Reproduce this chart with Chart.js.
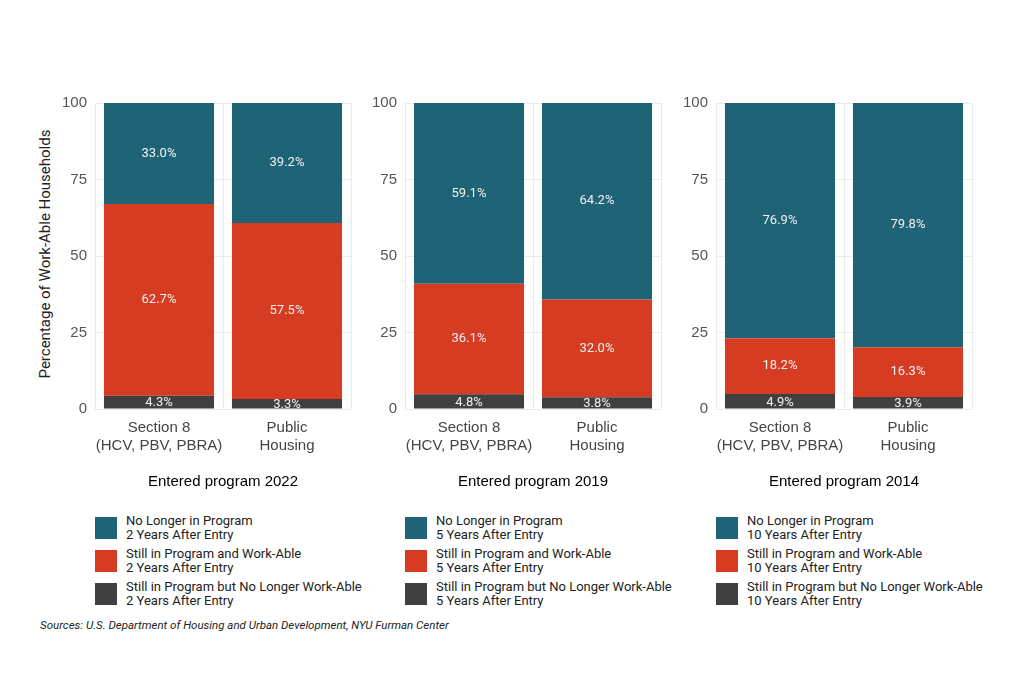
<!DOCTYPE html>
<html><head><meta charset="utf-8">
<script src="https://cdn.jsdelivr.net/npm/chart.js@4"></script>
<style>
body{margin:0;background:#fff;font-family:Roboto,"Noto Sans",sans-serif;}
#wrap{position:relative;width:1024px;height:683px;}
canvas{position:absolute;}
.ytitle{position:absolute;left:-85px;top:245px;width:260px;text-align:center;transform:rotate(-90deg);font-size:15px;color:#222;}
.leg{position:absolute;top:511px;font-size:13px;color:#222;line-height:14px;}
.item{display:flex;align-items:center;height:33px;}
.box{width:22px;height:22px;margin-right:9px;flex:none;}
.src{position:absolute;left:40px;top:618px;font-size:11.5px;font-style:italic;color:#222;}
</style></head><body>
<div id="wrap">
<div class="ytitle">Percentage of Work-Able Households</div>
<div class="src">Sources: U.S. Department of Housing and Urban Development, NYU Furman Center</div>
</div>
<script>
const categories = [['Section 8', '(HCV, PBV, PBRA)'], ['Public', 'Housing']];
const years = ['2022', '2019', '2014'];
const afterYears = ['2', '5', '10'];
const notWorkAble = [[4.3, 3.3], [4.8, 3.8], [4.9, 3.9]];
const workAble = [[62.7, 57.5], [36.1, 32.0], [18.2, 16.3]];
const noLonger = [[33.0, 39.2], [59.1, 64.2], [76.9, 79.8]];
const yTicks = [0, 25, 50, 75, 100];
const colors = { no: '#1f6377', still: '#d63c22', dark: '#404040' };

const labelPlugin = {
  id: 'barLabels',
  afterDatasetsDraw(chart) {
    const ctx = chart.ctx;
    ctx.save();
    ctx.font = '13px Roboto';
    ctx.fillStyle = '#f0f0f0';
    ctx.textAlign = 'center';
    ctx.textBaseline = 'middle';
    chart.data.datasets.forEach((ds, di) => {
      chart.getDatasetMeta(di).data.forEach((bar, i) => {
        const y = (bar.y + bar.base) / 2;
        ctx.fillText(ds.data[i].toFixed(1) + '%', bar.x, di === 0 ? y + 1 : y);
      });
    });
    ctx.restore();
  }
};

const lefts = [55, 365, 676];
const wrap = document.getElementById('wrap');
years.forEach((yr, p) => {
  const c = document.createElement('canvas');
  c.style.left = lefts[p] + 'px'; c.style.top = '86px';
  c.style.width = '306px'; c.style.height = '414px';
  c.width = 306; c.height = 414;
  wrap.appendChild(c);
  new Chart(c, {
    type: 'bar',
    plugins: [labelPlugin],
    data: {
      labels: categories,
      datasets: [
        { data: notWorkAble[p], backgroundColor: colors.dark },
        { data: workAble[p], backgroundColor: colors.still },
        { data: noLonger[p], backgroundColor: colors.no }
      ]
    },
    options: {
      responsive: false, animation: false,
      layout: { padding: { top: 10, right: 10, bottom: 5 } },
      categoryPercentage: 1, barPercentage: 0.86,
      plugins: { legend: { display: false }, tooltip: { enabled: false } },
      scales: {
        x: {
          stacked: true,
          grid: { color: '#ebebeb', drawTicks: false },
          border: { display: false },
          ticks: { color: '#444', font: { size: 15 }, padding: 10, maxRotation: 0, minRotation: 0, autoSkip: false },
          title: { display: true, text: 'Entered program ' + yr, color: '#000', font: { size: 15 }, padding: { top: 8 } }
        },
        y: {
          stacked: true, min: 0, max: 100,
          afterFit: s => { s.width = 40; },
          afterBuildTicks: s => { s.ticks = yTicks.map(v => ({ value: v })); },
          grid: { color: '#ebebeb', drawTicks: false },
          border: { display: false },
          ticks: { color: '#555', font: { size: 15 }, padding: 8 }
        }
      }
    }
  });
  const leg = document.createElement('div');
  leg.className = 'leg';
  leg.style.left = (lefts[p] + 40) + 'px';
  const n = afterYears[p];
  leg.innerHTML = [
    [colors.no, 'No Longer in Program'],
    [colors.still, 'Still in Program and Work-Able'],
    [colors.dark, 'Still in Program but No Longer Work-Able']
  ].map(([col, t]) => `<div class="item"><div class="box" style="background:${col}"></div><div>${t}<br>${n} Years After Entry</div></div>`).join('');
  wrap.appendChild(leg);
});
</script>
</body></html>
